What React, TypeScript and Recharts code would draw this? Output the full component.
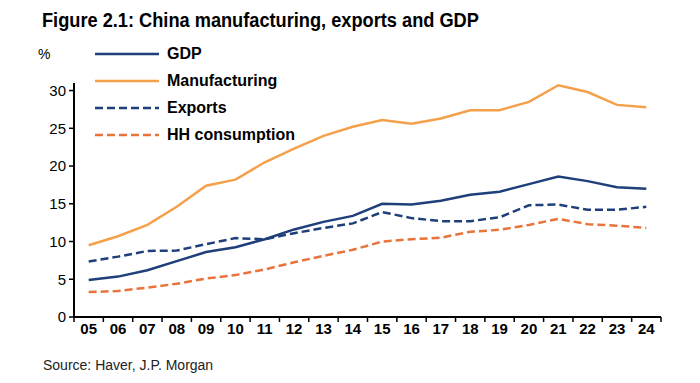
import { LineChart, Line, XAxis, YAxis } from 'recharts';

const years = ['05', '06', '07', '08', '09', '10', '11', '12', '13', '14', '15', '16', '17', '18', '19', '20', '21', '22', '23', '24'];
const gdp = [4.9, 5.35, 6.2, 7.4, 8.6, 9.25, 10.3, 11.6, 12.6, 13.4, 15.0, 14.9, 15.4, 16.2, 16.6, 17.6, 18.6, 18.0, 17.2, 17.0];
const manufacturing = [9.5, 10.7, 12.2, 14.6, 17.4, 18.2, 20.5, 22.3, 24.0, 25.2, 26.1, 25.6, 26.3, 27.4, 27.4, 28.5, 30.7, 29.8, 28.1, 27.8];
const exportsShare = [7.35, 8.0, 8.75, 8.8, 9.65, 10.45, 10.3, 11.1, 11.8, 12.4, 13.9, 13.1, 12.7, 12.7, 13.2, 14.8, 14.9, 14.2, 14.2, 14.6];
const hhConsumption = [3.3, 3.45, 3.9, 4.4, 5.1, 5.55, 6.3, 7.25, 8.1, 8.9, 10.0, 10.3, 10.5, 11.3, 11.55, 12.2, 13.0, 12.3, 12.1, 11.8];
const yTicks = [0, 5, 10, 15, 20, 25, 30];

const series = [
  { key: 'gdp', name: 'GDP', color: '#1f3f7a', dash: undefined },
  { key: 'manufacturing', name: 'Manufacturing', color: '#f5a04a', dash: undefined },
  { key: 'exports', name: 'Exports', color: '#1f3f7a', dash: '8 4' },
  { key: 'hh', name: 'HH consumption', color: '#e8743b', dash: '8 4' },
];

const data = years.map((year, i) => ({
  year,
  gdp: gdp[i],
  manufacturing: manufacturing[i],
  exports: exportsShare[i],
  hh: hhConsumption[i],
}));

const FONT = '"Liberation Sans", Arial, sans-serif';

// plot area
const LEFT = 74;
const RIGHT = 661;
const TOP = 83;
const BOTTOM = 317;
const STEP = (RIGHT - LEFT) / years.length;

const XTick = (props: any) => {
  const { x, y, payload, index } = props;
  const half = STEP / 2;
  return (
    <g>
      <line x1={x - half} x2={x - half} y1={y} y2={y + 5} stroke="#000" strokeWidth={1.5} />
      {index === years.length - 1 && (
        <line x1={x + half} x2={x + half} y1={y} y2={y + 5} stroke="#000" strokeWidth={1.5} />
      )}
      <text x={x} y={y + 17} textAnchor="middle" fontFamily={FONT} fontWeight="bold" fontSize={15} fill="#000">
        {payload.value}
      </text>
    </g>
  );
};

export default function App() {
  return (
    <div style={{ position: 'absolute', left: 0, top: 0, width: 700, height: 383, background: '#fff', fontFamily: FONT }}>
      <div
        style={{
          position: 'absolute',
          left: 42,
          top: 9,
          fontSize: 20,
          fontWeight: 'bold',
          color: '#000',
          whiteSpace: 'nowrap',
          transform: 'scaleX(0.91)',
          transformOrigin: 'left top',
        }}
      >
        Figure 2.1: China manufacturing, exports and GDP
      </div>
      <div style={{ position: 'absolute', left: 38, top: 46, fontSize: 14, color: '#000' }}>%</div>

      <LineChart
        width={700}
        height={383}
        data={data}
        margin={{ top: TOP, right: 700 - RIGHT, bottom: 383 - BOTTOM - 30, left: LEFT - 40 }}
      >
        <XAxis
          dataKey="year"
          height={30}
          padding={{ left: STEP / 2, right: STEP / 2 }}
          tickLine={false}
          tickSize={0}
          tickMargin={0}
          axisLine={{ stroke: '#000', strokeWidth: 2 }}
          tick={<XTick />}
          interval={0}
        />
        <YAxis
          width={40}
          domain={[0, 31]}
          ticks={yTicks}
          tickSize={5}
          tickMargin={3}
          axisLine={{ stroke: '#000', strokeWidth: 2 }}
          tickLine={{ stroke: '#000', strokeWidth: 1.5 }}
          tick={{ fontFamily: FONT, fontSize: 15, fill: '#000' }}
        />
        {series.map((s) => (
          <Line
            key={s.key}
            dataKey={s.key}
            name={s.name}
            stroke={s.color}
            strokeWidth={2.5}
            strokeDasharray={s.dash}
            dot={false}
            isAnimationActive={false}
          />
        ))}
      </LineChart>

      <div style={{ position: 'absolute', left: 95, top: 40 }}>
        {series.map((s) => (
          <div key={s.key} style={{ display: 'flex', alignItems: 'center', height: 27 }}>
            <svg width={64} height={6} style={{ marginRight: 8 }}>
              <line x1={0} x2={64} y1={3} y2={3} stroke={s.color} strokeWidth={2.5} strokeDasharray={s.dash} />
            </svg>
            <span style={{ fontSize: 16, fontWeight: 'bold', color: '#000' }}>{s.name}</span>
          </div>
        ))}
      </div>

      <div style={{ position: 'absolute', left: 43, top: 357, fontSize: 14, color: '#222' }}>
        Source: Haver, J.P. Morgan
      </div>
    </div>
  );
}
